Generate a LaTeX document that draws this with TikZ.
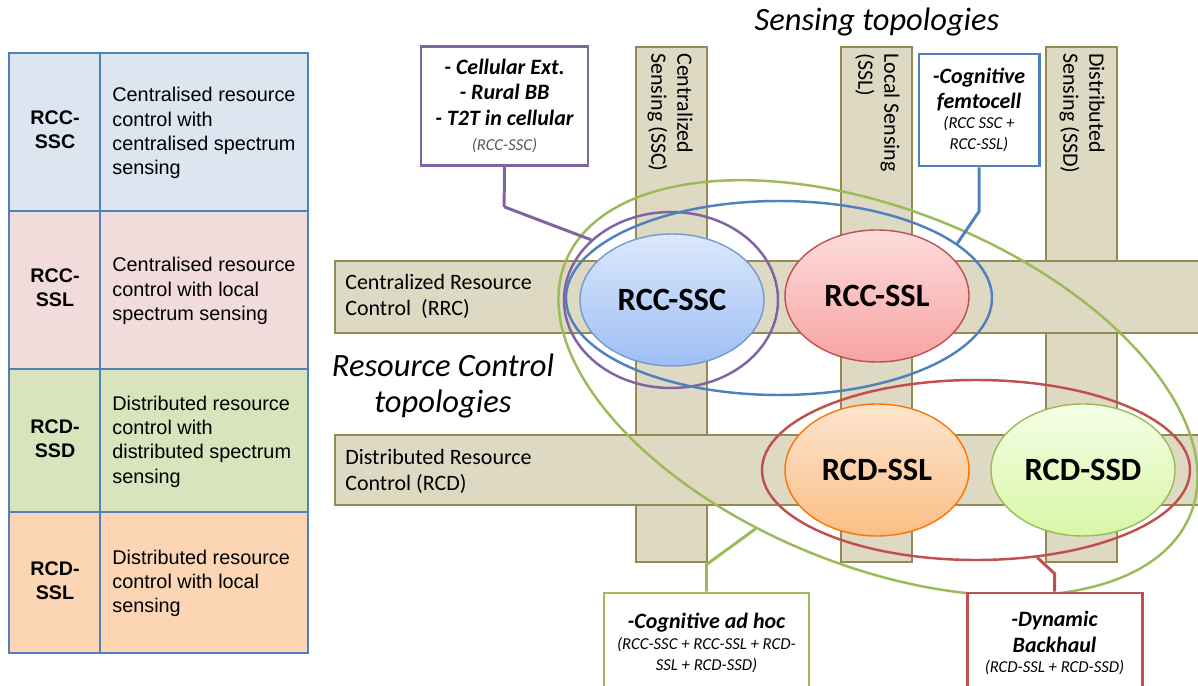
\documentclass[tikz,border=0pt]{standalone}
\usepackage{fontspec}
\setmainfont{Carlito}
\newfontfamily\tblfont{Liberation Sans}
\usetikzlibrary{shapes.geometric}
\newlength\px
\setlength\px{0.02cm}
\newcommand\topoNote{\fontsize{9.5}{11}\selectfont\mdseries}
\definecolor{barFill}{HTML}{DDD9C3}
\definecolor{barLine}{HTML}{948A54}
\definecolor{tblLine}{HTML}{4F81BD}
\definecolor{rowA}{HTML}{DCE6F1}
\definecolor{rowB}{HTML}{F2DCDB}
\definecolor{rowC}{HTML}{D8E4BC}
\definecolor{rowD}{HTML}{FCD5B4}
\definecolor{ringP}{HTML}{8064A2}
\definecolor{ringB}{HTML}{4F81BD}
\definecolor{ringG}{HTML}{9BBB59}
\definecolor{ringR}{HTML}{C0504D}
\definecolor{sscTop}{HTML}{DCE8FC}
\definecolor{sscBot}{HTML}{9DBEF5}
\definecolor{sslTop}{HTML}{FDDCDC}
\definecolor{sslBot}{HTML}{F7A3A3}
\definecolor{dslTop}{HTML}{FDE5CE}
\definecolor{dslBot}{HTML}{FBBE85}
\definecolor{dsdTop}{HTML}{F4FDE6}
\definecolor{dsdBot}{HTML}{D9F7A6}
\begin{document}
\begin{tikzpicture}[x=0.02cm, y=-0.02cm,
  topoBar/.style = {fill=barFill, draw=barLine, line width=1.1pt},
  topoBarTxt/.style = {inner sep=0pt, align=left, font=\fontsize{12.5}{14.8}\selectfont},
  topoEll/.style = {ellipse, draw, line width=0.8pt, inner sep=0pt,
    minimum width=184\px, minimum height=132\px, font=\fontsize{18.5}{22}\selectfont\bfseries},
  topoRing/.style = {ellipse, draw, line width=1.4pt, inner sep=0pt},
  topoBox/.style = {draw, fill=white, line width=1.7pt, inner sep=0pt, align=center,
    font=\fontsize{12.5}{14.5}\selectfont\bfseries\itshape},
  topoLink/.style = {line width=1.7pt},
  topoTitle/.style = {align=center, font=\fontsize{18.5}{21}\selectfont\itshape},
  tblLab/.style = {align=center, font=\tblfont\fontsize{11.2}{13.6}\selectfont\bfseries},
  tblTxt/.style = {align=left, anchor=west, inner sep=0pt, font=\tblfont\fontsize{11.3}{13.8}\selectfont},
  tblGrid/.style = {draw=tblLine, line width=0.9pt}
]
  \useasboundingbox (0,0) rectangle (1198,686);
  \clip (0,0) rectangle (1198,686);

  % table of topologies
  \foreach \i/\ya/\yb/\rowcol/\lab/\desc in {
    1/53/211/rowA/{RCC-\\SSC}/{Centralised resource\\control with\\centralised spectrum\\sensing},
    2/211/369/rowB/{RCC-\\SSL}/{Centralised resource\\control with local\\spectrum sensing},
    3/369/512/rowC/{RCD-\\SSD}/{Distributed resource\\control with\\distributed spectrum\\sensing},
    4/512/653/rowD/{RCD-\\SSL}/{Distributed resource\\control with local\\sensing}} {
    \fill[\rowcol] (9,\ya) rectangle (308,\yb);
    \node[tblLab] (tblLab\i) at (55,{(\ya+\yb)/2-2}) {\lab};
    \node[tblTxt] (tblTxt\i) at (112,{(\ya+\yb)/2+1}) {\desc};
  }
  \draw[tblGrid] (9,53) rectangle (308,653);
  \draw[tblGrid] (100,53) -- (100,653);
  \foreach \y in {211,369,512} {
    \draw[tblGrid] (9,\y) -- (308,\y);
  }

  % sensing bars
  \draw[topoBar] (636,47) rectangle (707,562);
  \draw[topoBar] (841,47) rectangle (912,562);
  \draw[topoBar] (1046,47) rectangle (1117,562);
  % resource control bars
  \draw[topoBar] (335,261) rectangle (1210,333);
  \draw[topoBar] (335,435) rectangle (1210,505);

  \node[topoBarTxt, rotate=-90, anchor=north west] (lblSSC) at (693,53) {Centralized\\Sensing (SSC)};
  \node[topoBarTxt, rotate=-90, anchor=north west] (lblSSL) at (900,53) {Local Sensing\\(SSL)};
  \node[topoBarTxt, rotate=-90, anchor=north west] (lblSSD) at (1105,53) {Distributed\\Sensing (SSD)};
  \node[topoBarTxt, anchor=west] (lblRRC) at (345,296) {Centralized Resource\\Control~ (RRC)};
  \node[topoBarTxt, anchor=west] (lblRCD) at (345,471) {Distributed Resource\\Control (RCD)};

  % titles
  \node[topoTitle] (titleSense) at (877,22) {Sensing topologies};
  \node[topoTitle] (titleCtrl) at (443,386) {Resource Control\\topologies};

  % topologies
  \node[topoEll, draw=ringB!80, top color=sscTop, bottom color=sscBot] (rccssc) at (672,300) {RCC-SSC};
  \node[topoEll, draw=ringR, top color=sslTop, bottom color=sslBot] (rccssl) at (877,296) {RCC-SSL};
  \node[topoEll, draw=orange!90!red, top color=dslTop, bottom color=dslBot] (rcdssl) at (877,470) {RCD-SSL};
  \node[topoEll, draw=ringG, top color=dsdTop, bottom color=dsdBot] (rcdssd) at (1083,470) {RCD-SSD};

  % groupings
  \node[topoRing, draw=ringP, minimum width=214\px, minimum height=176\px] (ringCell) at (671,300) {};
  \node[topoRing, draw=ringB, minimum width=426\px, minimum height=194\px] (ringFemto) at (779,298) {};
  \node[topoRing, draw=ringR, minimum width=428\px, minimum height=180\px] (ringBack) at (976,470) {};
  \node[topoRing, draw=ringG, rotate=-22, minimum width=674\px, minimum height=356\px] (ringAdhoc) at (878,388) {};

  % use cases
  \draw[topoLink, ringP] (ringCell.143) -- ++(-87,-33) coordinate (kinkCell);
  \node[topoBox, draw=ringP, minimum width=167\px, minimum height=119\px] (boxCell) at (504.5,106)
    {- Cellular Ext.\\- Rural BB\\- T2T in cellular\\\topoNote\color{black!65}(RCC-SSC)};
  \draw[topoLink, ringP] (boxCell.south) -- (kinkCell);

  \node[topoBox, draw=ringB, minimum width=120\px, minimum height=112\px] (boxFemto) at (979,110)
    {-Cognitive\\femtocell\\[-3pt]\topoNote(RCC SSC +\\[-2.5pt]\topoNote RCC-SSL)};
  \draw[topoLink, ringB] (boxFemto.south) -- ++(0,44) -- (ringFemto.17);

  \node[topoBox, draw=ringG, minimum width=205\px, minimum height=100\px] (boxAdhoc) at (706.5,643)
    {-Cognitive ad hoc\\[-3pt]\topoNote(RCC-SSC + RCC-SSL + RCD-\\[-2.5pt]\topoNote SSL + RCD-SSD)};
  \draw[topoLink, ringG] (boxAdhoc.north) -- ++(0,-27) -- (ringAdhoc.251);

  \node[topoBox, draw=ringR, minimum width=175\px, minimum height=100\px] (boxBack) at (1054.5,643)
    {-Dynamic\\Backhaul\\[-3pt]\topoNote(RCD-SSL + RCD-SSD)};
  \draw[topoLink, ringR] (boxBack.north) -- ++(0,-18) -- (ringBack.-55);
\end{tikzpicture}
\end{document}
